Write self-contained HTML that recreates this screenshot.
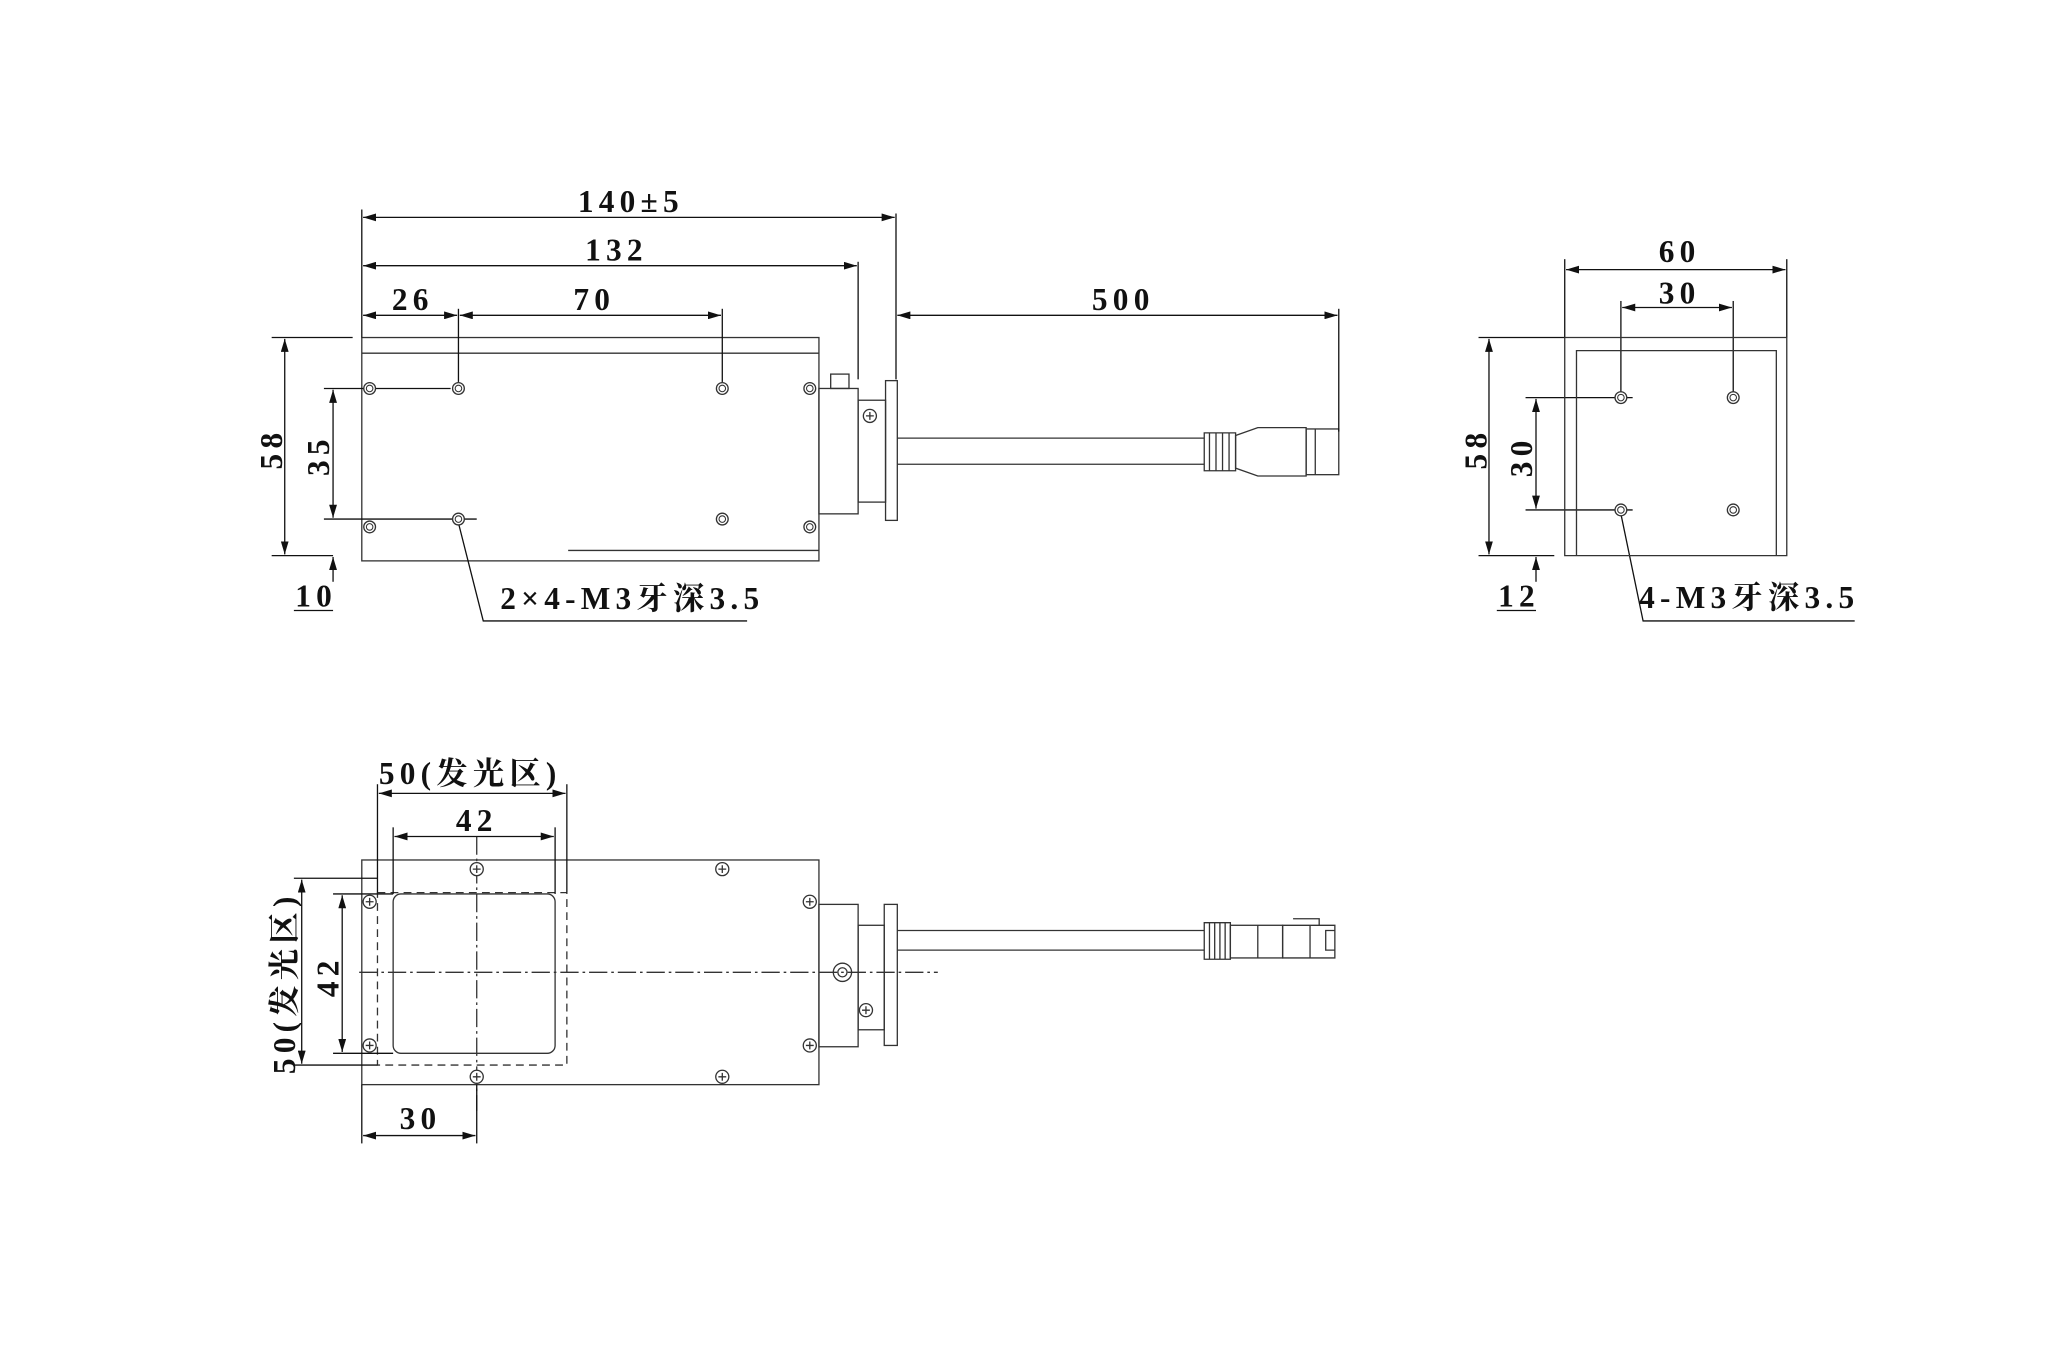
<!DOCTYPE html>
<html><head><meta charset="utf-8"><style>
html,body{margin:0;padding:0;background:#fff;}
svg{display:block}
text{font-family:"Liberation Serif","Noto Serif CJK SC",serif;font-weight:bold;font-size:24px;letter-spacing:4px;fill:#111}
</style></head><body>
<svg width="2048" height="1366" viewBox="0 0 1568 1045" xmlns="http://www.w3.org/2000/svg">
<defs>
<marker id="a" viewBox="0 0 10 6" refX="10" refY="3" markerWidth="10" markerHeight="6" orient="auto-start-reverse" markerUnits="userSpaceOnUse"><path d="M0,0L10,3L0,6z" fill="#111"/></marker>
<g id="hole"><circle r="4.5" fill="#fff" stroke="#333" stroke-width="1"/><circle r="2.5" fill="none" stroke="#333" stroke-width="0.8"/></g>
<g id="scr"><circle r="5" fill="#fff" stroke="#333" stroke-width="1"/><path d="M-3,0H3M0,-3V3" stroke="#333" stroke-width="1"/></g>
</defs>
<g fill="none" stroke="#333" stroke-width="1">
<rect x="277" y="258" width="350" height="171"/>
<line x1="277" y1="270" x2="627" y2="270"/>
<line x1="435" y1="421" x2="627" y2="421"/>
<rect x="636" y="286" width="14" height="11"/>
<rect x="627" y="297" width="30" height="96"/>
<rect x="657" y="306" width="21" height="78"/>
<rect x="678" y="291" width="9" height="107"/>
<line x1="687" y1="335" x2="922" y2="335"/><line x1="687" y1="355" x2="922" y2="355"/>
<path d="M922,331h24v29h-24z M926,331v29 M931,331v29 M936,331v29 M941,331v29"/>
<path d="M946,333L963,327H1000V364H963L946,358z"/>
<rect x="1000" y="328" width="25" height="35"/>
<line x1="1007" y1="328" x2="1007" y2="363"/>
<g stroke="#111">
<line x1="277" y1="160" x2="277" y2="258"/><line x1="686" y1="163" x2="686" y2="290"/><line x1="657" y1="200" x2="657" y2="290"/>
<line x1="351" y1="236" x2="351" y2="292"/><line x1="553" y1="236" x2="553" y2="292"/><line x1="1025" y1="236" x2="1025" y2="330"/>
<line x1="278" y1="166" x2="685" y2="166" marker-start="url(#a)" marker-end="url(#a)"/>
<line x1="278" y1="203" x2="656" y2="203" marker-start="url(#a)" marker-end="url(#a)"/>
<line x1="278" y1="241" x2="350" y2="241" marker-start="url(#a)" marker-end="url(#a)"/>
<line x1="352" y1="241" x2="552" y2="241" marker-start="url(#a)" marker-end="url(#a)"/>
<line x1="687" y1="241" x2="1024" y2="241" marker-start="url(#a)" marker-end="url(#a)"/>
<line x1="208" y1="258" x2="270" y2="258"/><line x1="208" y1="425" x2="255" y2="425"/>
<line x1="218" y1="259" x2="218" y2="424" marker-start="url(#a)" marker-end="url(#a)"/>
<line x1="248" y1="297" x2="345" y2="297"/><line x1="248" y1="397" x2="365" y2="397"/>
<line x1="255" y1="298" x2="255" y2="396" marker-start="url(#a)" marker-end="url(#a)"/>
<line x1="255" y1="445" x2="255" y2="426" marker-end="url(#a)"/>
<line x1="225" y1="467" x2="255" y2="467"/>
<polyline points="351,400 370,475 572,475"/>
<line x1="1198" y1="198" x2="1198" y2="258"/><line x1="1368" y1="198" x2="1368" y2="258"/>
<line x1="1199" y1="206" x2="1367" y2="206" marker-start="url(#a)" marker-end="url(#a)"/>
<line x1="1241" y1="230" x2="1241" y2="300"/><line x1="1327" y1="230" x2="1327" y2="300"/>
<line x1="1242" y1="235" x2="1326" y2="235" marker-start="url(#a)" marker-end="url(#a)"/>
<line x1="1132" y1="258" x2="1198" y2="258"/><line x1="1132" y1="425" x2="1190" y2="425"/>
<line x1="1140" y1="259" x2="1140" y2="424" marker-start="url(#a)" marker-end="url(#a)"/>
<line x1="1168" y1="304" x2="1250" y2="304"/><line x1="1168" y1="390" x2="1250" y2="390"/>
<line x1="1176" y1="305" x2="1176" y2="389" marker-start="url(#a)" marker-end="url(#a)"/>
<line x1="1176" y1="445" x2="1176" y2="426" marker-end="url(#a)"/>
<line x1="1146" y1="467" x2="1176" y2="467"/>
<polyline points="1241,393 1258,475 1420,475"/>
</g>
<path d="M1198,258H1368V425H1198z M1207,425V268H1360V425"/>
<rect x="277" y="658" width="350" height="172"/>
<rect x="289" y="683" width="145" height="132" stroke-dasharray="6,4"/>
<rect x="301" y="684" width="124" height="122" rx="6"/>
<g stroke-dasharray="14,3,2,3"><line x1="365" y1="640" x2="365" y2="850"/><line x1="275" y1="744" x2="718" y2="744"/></g>
<rect x="627" y="692" width="30" height="109"/>
<rect x="657" y="708" width="20" height="80"/>
<rect x="677" y="692" width="10" height="108"/>
<circle cx="645" cy="744" r="7"/><circle cx="645" cy="744" r="3.5"/>
<line x1="687" y1="712" x2="922" y2="712"/><line x1="687" y1="727" x2="922" y2="727"/>
<path d="M922,706h20v28h-20z M926,706v28 M930,706v28 M934,706v28 M938,706v28"/>
<rect x="942" y="708" width="40" height="25"/>
<line x1="963" y1="708" x2="963" y2="733"/>
<path d="M982,708h40v25h-40z M990,703h20v5 M1003,708v25 M1015,712h7v15h-7z"/>
<g stroke="#111">
<line x1="289" y1="600" x2="289" y2="683"/><line x1="434" y1="600" x2="434" y2="683"/>
<line x1="290" y1="607" x2="433" y2="607" marker-start="url(#a)" marker-end="url(#a)"/>
<line x1="301" y1="633" x2="301" y2="684"/><line x1="425" y1="633" x2="425" y2="684"/>
<line x1="302" y1="640" x2="424" y2="640" marker-start="url(#a)" marker-end="url(#a)"/>
<line x1="225" y1="672" x2="289" y2="672"/><line x1="225" y1="815" x2="289" y2="815"/>
<line x1="231" y1="673" x2="231" y2="814" marker-start="url(#a)" marker-end="url(#a)"/>
<line x1="255" y1="684" x2="301" y2="684"/><line x1="255" y1="806" x2="301" y2="806"/>
<line x1="262" y1="685" x2="262" y2="805" marker-start="url(#a)" marker-end="url(#a)"/>
<line x1="277" y1="830" x2="277" y2="875"/><line x1="365" y1="830" x2="365" y2="875"/>
<line x1="278" y1="869" x2="364" y2="869" marker-start="url(#a)" marker-end="url(#a)"/>
</g>
</g>
<use href="#hole" x="283" y="297"/><use href="#hole" x="351" y="297"/><use href="#hole" x="553" y="297"/><use href="#hole" x="620" y="297"/>
<use href="#hole" x="283" y="403"/><use href="#hole" x="351" y="397"/><use href="#hole" x="553" y="397"/><use href="#hole" x="620" y="403"/>
<use href="#scr" x="666" y="318"/>
<use href="#hole" x="1241" y="304"/><use href="#hole" x="1327" y="304"/><use href="#hole" x="1241" y="390"/><use href="#hole" x="1327" y="390"/>
<use href="#scr" x="365" y="665"/><use href="#scr" x="553" y="665"/><use href="#scr" x="365" y="824"/><use href="#scr" x="553" y="824"/>
<use href="#scr" x="283" y="690"/><use href="#scr" x="283" y="800"/><use href="#scr" x="620" y="690"/><use href="#scr" x="620" y="800"/>
<use href="#scr" x="663" y="773"/>
<text x="483" y="162" text-anchor="middle">140±5</text>
<text x="472" y="199" text-anchor="middle">132</text>
<text x="316" y="237" text-anchor="middle">26</text>
<text x="455" y="237" text-anchor="middle">70</text>
<text x="860" y="237" text-anchor="middle">500</text>
<text transform="translate(216,343) rotate(-90)" text-anchor="middle">58</text>
<text transform="translate(252,348) rotate(-90)" text-anchor="middle">35</text>
<text x="242" y="464" text-anchor="middle">10</text>
<text x="383" y="466">2×4-M3牙深3.5</text>
<text x="1286" y="200" text-anchor="middle">60</text>
<text x="1286" y="232" text-anchor="middle">30</text>
<text transform="translate(1138,343) rotate(-90)" text-anchor="middle">58</text>
<text transform="translate(1173,349) rotate(-90)" text-anchor="middle">30</text>
<text x="1163" y="464" text-anchor="middle">12</text>
<text x="1255" y="465">4-M3牙深3.5</text>
<text x="360" y="600" text-anchor="middle">50(发光区)</text>
<text x="365" y="636" text-anchor="middle">42</text>
<text transform="translate(226,752) rotate(-90)" text-anchor="middle">50(发光区)</text>
<text transform="translate(259,747) rotate(-90)" text-anchor="middle">42</text>
<text x="322" y="864" text-anchor="middle">30</text>
</svg>
</body></html>
